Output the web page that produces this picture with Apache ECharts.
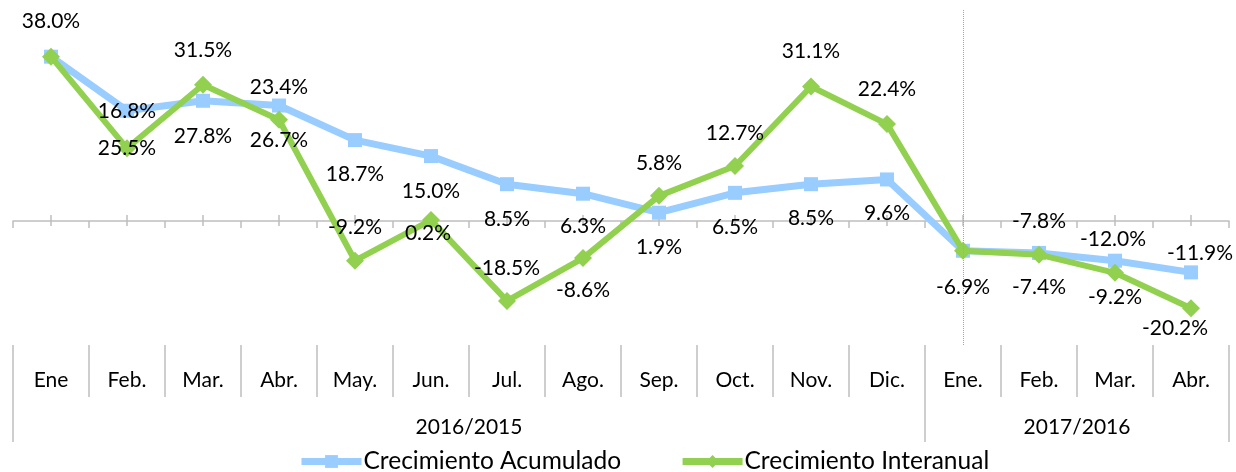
<!DOCTYPE html>
<html>
<head>
<meta charset="utf-8">
<script src="https://cdn.jsdelivr.net/npm/echarts@6/dist/echarts.min.js"></script>
<style>
  html, body { margin: 0; padding: 0; background: #fff; }
  #chart { width: 1236px; height: 472px; }
</style>
</head>
<body>
<div id="chart"></div>
<script>
const months = ['Ene', 'Feb.', 'Mar.', 'Abr.', 'May.', 'Jun.', 'Jul.', 'Ago.', 'Sep.', 'Oct.', 'Nov.', 'Dic.', 'Ene.', 'Feb.', 'Mar.', 'Abr.']
const periods = ['2016/2015', '2017/2016']
const periodStart = [0, 12]

const acumulado = [38.0, 25.5, 27.8, 26.7, 18.7, 15.0, 8.5, 6.3, 1.9, 6.5, 8.5, 9.6, -6.9, -7.4, -9.2, -11.9]
const interanual = [38.0, 16.8, 31.5, 23.4, -9.2, 0.2, -18.5, -8.6, 5.8, 12.7, 31.1, 22.4, -6.9, -7.8, -12.0, -20.2]

// where each data label sits relative to its point (null = hidden, overlaps the other series)
const acumuladoLabelOffset = [[0, -35], [0, 38], [0, 35], [0, 35], [0, 34], [0, 35], [0, 35], [0, 33],
  [0, 35], [0, 34], [0, 34], [0, 34], [0, 36], [0, 34], [0, 37], [9, -19]]
const interanualLabelOffset = [null, [0, -37], [0, -35], [0, -33], [0, -33], [-3, 13], [0, -33], [0, 32],
  [0, -33], [0, -33], [0, -35], [0, -35], null, [0, -33], [-2, -34], [-16, 20]]

const FONT = 'Lato'
const gridLeft = 13
const gridRight = 7
const bandWidth = (1236 - gridLeft - gridRight) / months.length
const tickStyle = { color: '#bfbfbf', width: 1.5 }

const buildLabels = (values, offsets) =>
  values.map((v, i) => ({
    value: v,
    label: offsets[i]
      ? { show: true, position: 'inside', offset: offsets[i] }
      : { show: false },
  }))

// label-only series so the texts sit above both lines
const labelSeries = (values, offsets) => ({
  type: 'line',
  symbol: 'circle',
  symbolSize: 1,
  itemStyle: { color: 'rgba(0,0,0,0)' },
  lineStyle: { width: 0, color: 'rgba(0,0,0,0)' },
  silent: true,
  label: { fontFamily: FONT, fontSize: 21, color: '#000', formatter: (p) => p.value.toFixed(1) + '%' },
  data: buildLabels(values, offsets),
  z: 5,
})

// period label sits on the middle of its group of months
const periodLabels = months.map(() => '')
periods.forEach((p, k) => {
  const start = periodStart[k]
  const end = k + 1 < periodStart.length ? periodStart[k + 1] : months.length
  periodLabels[start + (end - start) / 2 - 1] = p
})

const chart = echarts.init(document.getElementById('chart'))
chart.setOption({
  animation: false,
  textStyle: { fontFamily: FONT },
  grid: { left: gridLeft, right: gridRight, top: 10, bottom: 127, containLabel: false },
  legend: {
    left: 298,
    top: 449,
    padding: 0,
    itemWidth: 60,
    itemHeight: 16,
    itemGap: 58,
    lineStyle: { width: 7 },
    textStyle: { fontFamily: FONT, fontSize: 24.5, color: '#000', padding: [0, 0, 0, -3] },
    data: ['Crecimiento Acumulado', 'Crecimiento Interanual'],
  },
  xAxis: [
    {
      type: 'category',
      data: months,
      axisLine: { onZero: true, lineStyle: tickStyle },
      axisTick: { show: true, length: 7, lineStyle: tickStyle },
      axisLabel: { show: false },
    },
    {
      // centre ticks crossing the zero line
      type: 'category',
      data: months,
      position: 'bottom',
      offset: -119,
      axisLine: { show: false, onZero: false },
      axisTick: { show: true, inside: true, alignWithLabel: true, length: 11, lineStyle: tickStyle },
      axisLabel: { show: false },
    },
    {
      type: 'category',
      data: months,
      position: 'bottom',
      axisLine: { show: false, onZero: false },
      axisTick: { show: true, length: 52, lineStyle: tickStyle },
      axisLabel: { show: true, interval: 0, margin: 25, fontFamily: FONT, fontSize: 21, color: '#000' },
    },
    {
      type: 'category',
      data: periodLabels,
      position: 'bottom',
      axisLine: { show: false, onZero: false },
      axisTick: {
        show: true,
        length: 97,
        interval: (i) => periodStart.includes(i),
        lineStyle: tickStyle,
      },
      axisLabel: {
        show: true,
        interval: (i, v) => v !== '',
        margin: 72,
        padding: [0, 0, 0, bandWidth],
        fontFamily: FONT,
        fontSize: 21,
        color: '#000',
      },
    },
  ],
  yAxis: {
    type: 'value',
    min: -28.7,
    max: 48.8,
    show: false,
    splitLine: { show: false },
  },
  series: [
    {
      name: 'Crecimiento Acumulado',
      type: 'line',
      symbol: 'rect',
      symbolSize: 14,
      color: '#99ccff',
      lineStyle: { width: 7, color: '#99ccff' },
      itemStyle: { color: '#99ccff' },
      data: acumulado,
      z: 2,
    },
    {
      name: 'Crecimiento Interanual',
      type: 'line',
      symbol: 'diamond',
      symbolSize: 18,
      color: '#92d050',
      lineStyle: { width: 6, color: '#92d050' },
      itemStyle: { color: '#92d050' },
      data: interanual,
      markLine: {
        silent: true,
        symbol: 'none',
        label: { show: false },
        lineStyle: { type: 'dotted', color: '#a6a6a6', width: 1 },
        data: [{ xAxis: periodStart[1] - 0.5 }],
      },
      z: 3,
    },
    labelSeries(acumulado, acumuladoLabelOffset),
    labelSeries(interanual, interanualLabelOffset),
  ],
})
</script>
</body>
</html>
